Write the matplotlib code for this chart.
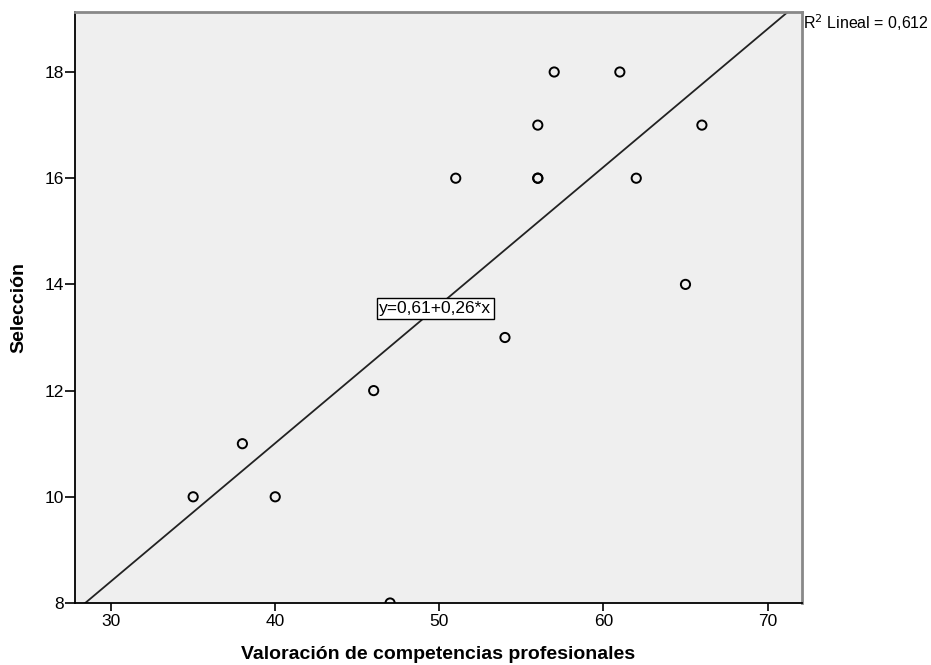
import matplotlib.pyplot as plt
import numpy as np

plt.rcParams['font.family'] = ['Liberation Sans', 'DejaVu Sans']

# data
valoracion = [35, 38, 40, 46, 47, 51, 54, 56, 56, 56, 57, 61, 62, 65, 66]
seleccion = [10, 11, 10, 12, 8, 16, 13, 17, 16, 16, 18, 18, 16, 14, 17]
intercept = 0.61
slope = 0.26
r2 = 0.612

x_min, x_max = 27.8, 72.1
y_min, y_max = 8.0, 19.13

fig = plt.figure(figsize=(9.31, 6.65), dpi=100)
ax = fig.add_axes([75 / 931, 62 / 665, 727 / 931, 591 / 665])
ax.set_facecolor('#efefef')

ax.scatter(valoracion, seleccion, s=44, facecolors='none', edgecolors='black',
           linewidths=1.4, zorder=3)

# fit line
xs = np.array([x_min, x_max])
ax.plot(xs, intercept + slope * xs, color='#222222', lw=1.3, zorder=2)

xm = 49.75
ax.text(xm, intercept + slope * xm, 'y=0,61+0,26*x', fontsize=12.5,
        ha='center', va='center', zorder=4,
        bbox=dict(boxstyle='square,pad=0.15', fc='white', ec='black', lw=1))

ax.text(1.002, 1.0, 'R$^2$ Lineal = 0,612', transform=ax.transAxes,
        fontsize=11.5, ha='left', va='top')

ax.set_xlim(x_min, x_max)
ax.set_ylim(y_min, y_max)
ax.set_xticks([30, 40, 50, 60, 70])
ax.set_yticks([8, 10, 12, 14, 16, 18])
ax.tick_params(axis='y', length=7, width=1.2, labelsize=12.5, pad=1)
ax.tick_params(axis='x', length=6, width=1.2, labelsize=12.5, pad=2)

for s in ['left', 'bottom']:
    ax.spines[s].set_linewidth(1.3)
    ax.spines[s].set_color('black')
for s in ['top', 'right']:
    ax.spines[s].set_linewidth(2)
    ax.spines[s].set_color('#888888')

ax.set_xlabel('Valoración de competencias profesionales', fontsize=14,
              fontweight='bold', labelpad=12)
ax.set_ylabel('Selección', fontsize=14, fontweight='bold', labelpad=12)

fig.savefig('out.png', dpi=100)
